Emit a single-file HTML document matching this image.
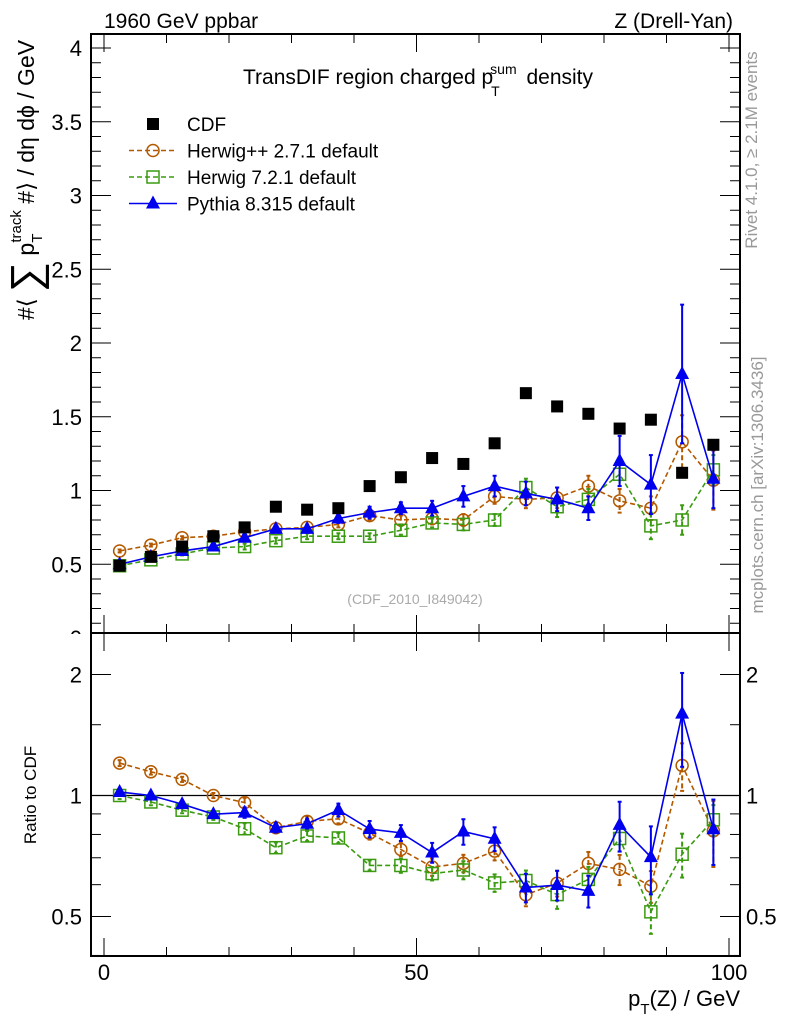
<!DOCTYPE html>
<html><head><meta charset="utf-8">
<style>
html,body{margin:0;padding:0;background:#fff;}
svg{display:block;font-family:"Liberation Sans Narrow","Liberation Sans",sans-serif;}
</style></head>
<body>
<svg id="c" width="786" height="1024" viewBox="0 0 786 1024" xmlns="http://www.w3.org/2000/svg">
<text x="104" y="28" font-size="21">1960 GeV ppbar</text>
<text x="733" y="28" font-size="21" text-anchor="end">Z (Drell-Yan)</text>
<text x="418" y="84" font-size="21" text-anchor="middle">TransDIF region charged p<tspan font-size="14" dx="-2" dy="12">T</tspan><tspan font-size="14" dx="-8" dy="-22">sum</tspan><tspan dy="10" dx="4"> density</tspan></text>
<text transform="translate(757,150) rotate(-90)" font-size="17" fill="#999" text-anchor="middle" font-family="Liberation Sans,sans-serif">Rivet 4.1.0, ≥ 2.1M events</text>
<text transform="translate(763,485) rotate(-90)" font-size="17" fill="#999" text-anchor="middle" font-family="Liberation Sans,sans-serif">mcplots.cern.ch [arXiv:1306.3436]</text>
<text x="415" y="604" font-size="14" fill="#aaa" text-anchor="middle" font-family="Liberation Sans,sans-serif">(CDF_2010_I849042)</text>
<text transform="translate(34,180) rotate(-90)" font-size="23" text-anchor="middle" font-family="Liberation Sans,sans-serif">#⟨ <tspan font-size="42" dy="6">∑</tspan><tspan dy="-6"> p</tspan><tspan font-size="15" dy="8">T</tspan><tspan font-size="15" dx="-9" dy="-21">track</tspan><tspan dy="13"> #⟩ / dη dϕ / GeV</tspan></text>
<text transform="translate(36,795) rotate(-90)" font-size="17" text-anchor="middle" font-family="Liberation Sans,sans-serif">Ratio to CDF</text>
<text x="740" y="1006" font-size="22" text-anchor="end">p<tspan font-size="15" dy="8">T</tspan><tspan dy="-8">(Z) / GeV</tspan></text>
<g id="legend"></g>
<g id="plot"></g>
</svg>
<script>
const categories=[2.5,7.5,12.5,17.5,22.5,27.5,32.5,37.5,42.5,47.5,52.5,57.5,62.5,67.5,72.5,77.5,82.5,87.5,92.5,97.5];
const cdfValues=[0.49,0.55,0.62,0.69,0.75,0.89,0.87,0.88,1.03,1.09,1.22,1.18,1.32,1.66,1.57,1.52,1.42,1.48,1.12,1.31];
const herwigppValues=[0.59,0.63,0.68,0.69,0.72,0.74,0.75,0.77,0.83,0.80,0.81,0.80,0.96,0.94,0.95,1.03,0.93,0.88,1.33,1.07];
const herwigppErrors=[0.01,0.01,0.01,0.01,0.02,0.02,0.02,0.02,0.03,0.03,0.04,0.04,0.05,0.06,0.07,0.07,0.08,0.08,0.18,0.2];
const herwig7Values=[0.49,0.53,0.57,0.61,0.62,0.66,0.69,0.69,0.69,0.73,0.78,0.77,0.80,1.02,0.89,0.94,1.11,0.76,0.80,1.14];
const herwig7Errors=[0.01,0.01,0.01,0.01,0.02,0.02,0.02,0.02,0.02,0.03,0.03,0.04,0.04,0.06,0.07,0.07,0.08,0.09,0.1,0.1];
const pythiaValues=[0.50,0.55,0.59,0.62,0.68,0.74,0.74,0.81,0.85,0.88,0.88,0.96,1.03,0.98,0.94,0.88,1.20,1.04,1.79,1.08];
const pythiaErrors=[0.01,0.01,0.01,0.01,0.02,0.02,0.02,0.03,0.04,0.04,0.05,0.07,0.07,0.08,0.08,0.08,0.17,0.2,0.47,0.2];
const mainTicks=["0","0.5","1","1.5","2","2.5","3","3.5","4"];
const ratioTicks=["0.5","1","2"];
const xTicks=["0","50","100"];

const NS="http://www.w3.org/2000/svg";
const plot=document.getElementById('plot');
const L=91,R=740,MT=34,MB=633,RT=633,RB=956;
const X=v=>104+v*6.25;
const Y=v=>638-v*147.5;
const RY=r=>795.5-121*Math.log2(r);
function mk(tag,attrs,parent){const e=document.createElementNS(NS,tag);for(const k in attrs)e.setAttribute(k,attrs[k]);(parent||plot).appendChild(e);return e;}
function line(x1,y1,x2,y2,st,w,dash,p){const e=mk('line',{x1,y1,x2,y2,stroke:st||'#000','stroke-width':w||1},p);if(dash)e.setAttribute('stroke-dasharray',dash);return e;}

mainTicks.forEach(t=>{const e=mk('text',{x:82,y:Y(+t)+8,'font-size':22,'text-anchor':'end'});e.textContent=t;
 
 });
mk('rect',{x:40,y:634,width:50,height:20,fill:'#fff'});

const f1=mk('rect',{x:L,y:MT,width:R-L,height:MB-MT,fill:'none',stroke:'#000','stroke-width':2});


const f2=mk('rect',{x:L,y:RT,width:R-L,height:RB-RT,fill:'none',stroke:'#000','stroke-width':2});



for(let v=0;v<=100;v+=10){const maj=v%50===0;const x=X(v);
 line(x,MT,x,MT+(maj?18:9));line(x,MB,x,MB-(maj?18:9));
 line(x,RT,x,RT+(maj?18:9));line(x,RB,x,RB-(maj?18:9));}
xTicks.forEach(t=>{const e=mk('text',{x:X(+t),y:980,'font-size':22,'text-anchor':'middle'});e.textContent=t;
 
 });
for(let i=0;i<=41;i++){const v=i*0.1;const y=Y(v);if(y<MT||y>MB)continue;const maj=i%5===0;
 line(L,y,L+(maj?20:10),y);line(R,y,R-(maj?20:10),y);}
[0.4,0.5,0.6,0.7,0.8,0.9,1,1.5,2].forEach(v=>{const y=RY(v);const maj=(v===0.5||v===1||v===2);
 line(L,y,L+(maj?20:10),y);line(R,y,R-(maj?20:10),y);});
ratioTicks.forEach(t=>{const y=RY(+t)+8;
 let e=mk('text',{x:82,y,'font-size':22,'text-anchor':'end'});e.textContent=t;
 
 
 e=mk('text',{x:746,y,'font-size':22});e.textContent=t;
 
 });
const one=line(L,RY(1),R,RY(1),'#000',1.3);



function marker(type,x,y,col,p){
 if(type==='circle')return mk('circle',{cx:x,cy:y,r:6,fill:'none',stroke:col,'stroke-width':1.5},p);
 if(type==='square')return mk('rect',{x:x-6,y:y-6,width:12,height:12,fill:'none',stroke:col,'stroke-width':1.5},p);
 if(type==='tri')return mk('polygon',{points:`${x},${y-8} ${x-7},${y+5} ${x+7},${y+5}`,fill:col},p);
 return mk('rect',{x:x-6,y:y-6,width:12,height:12,fill:col},p);
}
function series(name,vals,errs,col,type,dash,ratio){
 const g=mk('g',{});
 
 
 const yy=(v,i)=>ratio?RY(v/cdfValues[i]):Y(v);
 const pts=vals.map((v,i)=>X(categories[i])+','+yy(v,i)).join(' ');
 const pl=mk('polyline',{points:pts,fill:'none',stroke:col,'stroke-width':1.6},g);
 if(dash)pl.setAttribute('stroke-dasharray',dash);
 vals.forEach((v,i)=>{const x=X(categories[i]);
  const y1=yy(v+errs[i],i),y2=yy(Math.max(v-errs[i],0.05),i);
  line(x,y1,x,y2,col,2,dash,g);line(x-2,y1,x+2,y1,col,2,null,g);line(x-2,y2,x+2,y2,col,2,null,g);
  const m=marker(type,x,yy(v,i),col,g);
  
  });
}
series('herwigpp',herwigppValues,herwigppErrors,'#b35900','circle','5,3',false);
series('herwig7',herwig7Values,herwig7Errors,'#3a9a10','square','5,3',false);
series('pythia',pythiaValues,pythiaErrors,'#0000ee','tri',null,false);
cdfValues.forEach((v,i)=>{const m=marker('fill',X(categories[i]),Y(v),'#000');
 
 });
series('herwigpp',herwigppValues,herwigppErrors,'#b35900','circle','5,3',true);
series('herwig7',herwig7Values,herwig7Errors,'#3a9a10','square','5,3',true);
series('pythia',pythiaValues,pythiaErrors,'#0000ee','tri',null,true);

const lg=document.getElementById('legend');
const entries=[['CDF','#000','fill',null,false],['Herwig++ 2.7.1 default','#b35900','circle','5,3',true],['Herwig 7.2.1 default','#3a9a10','square','5,3',true],['Pythia 8.315 default','#0000ee','tri',null,true]];
entries.forEach((e,i)=>{const y=124+i*26.5;
 const g=mk('g',{},lg);
 
 
 if(e[4]){line(129,y,177,y,e[1],1.5,e[3],g);}
 marker(e[2],153,y,e[1],g);
 const t=mk('text',{x:187,y:y+7,'font-size':19},g);t.textContent=e[0];});
</script>
</body></html>
